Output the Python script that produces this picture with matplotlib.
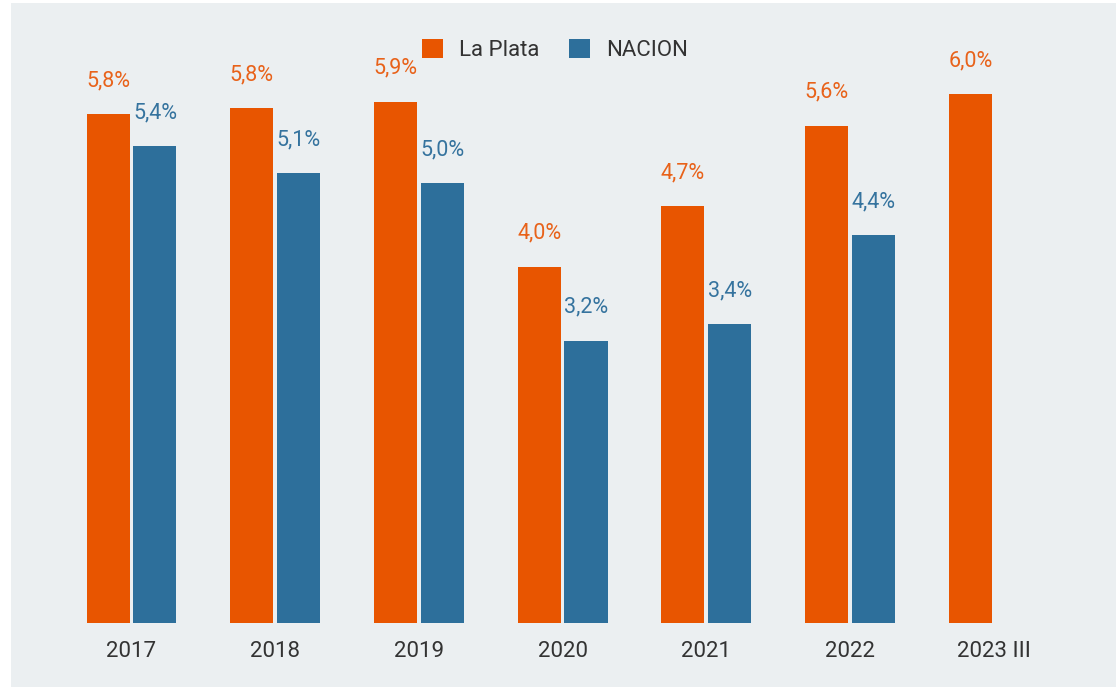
import numpy as np
import matplotlib.pyplot as plt
from matplotlib.patches import Patch, Rectangle

# ========= DATA =========
years      = ["2017", "2018", "2019", "2020", "2021", "2022", "2023 III"]
la_plata   = [5.77, 5.84, 5.91, 4.04, 4.73, 5.64, 6.0]
nacion     = [5.41, 5.10, 4.99, 3.20, 3.39, 4.40, None]

# ========= THEME =========
BG       = "#ebeff1"
ORANGE   = "#e85500"
BLUE     = "#2d6f9b"
ORANGE_T = "#e8621a"
BLUE_T   = "#35739e"
TXT      = "#333333"
plt.rcParams["font.family"] = ["Roboto", "DejaVu Sans"]

W, H = 1116, 687
fig = plt.figure(figsize=(W / 100, H / 100), dpi=100)
fig.patch.set_facecolor("white")
# grey panel (leaves a thin white strip on the left/top)
fig.patches.append(Rectangle((11 / W, 0), 1 - 11 / W, 1 - 3 / H,
                             transform=fig.transFigure, facecolor=BG,
                             edgecolor="none", zorder=-5))

base_px = H - 623          # baseline, px from bottom
ax = fig.add_axes([0, base_px / H, 1, (H - 3 - base_px) / H])
ax.set_facecolor("none")
ax.set_zorder(2)

x = np.arange(len(years))
bw, off = 0.30, 0.163
px_unit = 88.17
ax.set_xlim(-131.5 / 143.7, (W - 131.5) / 143.7)
ax.set_ylim(0, (H - 3 - base_px) / px_unit)

def fmt(v):
    return f"{v:.1f}".replace(".", ",") + "%"

for i, (a, b) in enumerate(zip(la_plata, nacion)):
    ax.bar(x[i] - off, a, width=bw, color=ORANGE, zorder=2)
    ax.text(x[i] - off, a + 0.38, fmt(a), ha="center", va="center",
            color=ORANGE_T, fontsize=15.5)
    if b is not None:
        ax.bar(x[i] + off, b, width=bw, color=BLUE, zorder=2)
        ax.text(x[i] + off, b + 0.38, fmt(b), ha="center", va="center",
                color=BLUE_T, fontsize=15.5)

for sp in ax.spines.values():
    sp.set_visible(False)
ax.set_yticks([])
ax.set_xticks(x)
ax.set_xticklabels(years, fontsize=16, color=TXT)
ax.tick_params(axis="x", length=0, pad=13)

handles = [Patch(facecolor=ORANGE, label="La Plata"),
           Patch(facecolor=BLUE, label="NACION")]
leg = fig.legend(handles=handles, loc="center", ncol=2, frameon=False,
                 bbox_to_anchor=(555 / W, 1 - 50 / H), fontsize=16,
                 handlelength=0.95, handleheight=0.95, handletextpad=0.75,
                 columnspacing=1.3, labelcolor=TXT)
leg.set_zorder(3)

fig.savefig("out.png", dpi=100, facecolor="white")
